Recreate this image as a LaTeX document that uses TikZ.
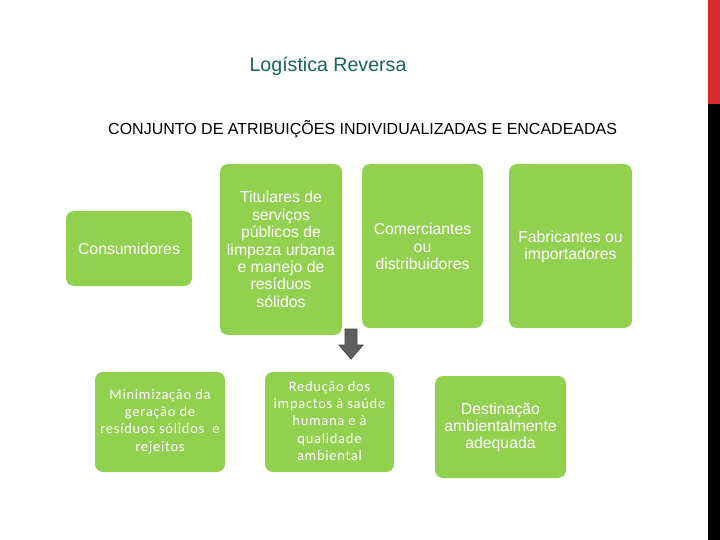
\documentclass[tikz,border=0pt]{standalone}
\usepackage{fontspec}
\setmainfont{Liberation Sans}
\newfontfamily\carl[LetterSpace=5]{Carlito}
\definecolor{boxgreen}{HTML}{92D050}
\definecolor{titleteal}{HTML}{17645A}
\definecolor{barred}{HTML}{D9292F}
\definecolor{arrowgray}{HTML}{5F5F5F}
\begin{document}
\begin{tikzpicture}[x=1pt,y=-1pt,
  gbox/.style={fill=boxgreen, rounded corners=8pt},
  topfont/.style={text=white, align=center, font=\fontsize{15.8}{17.4}\selectfont},
  botfont/.style={text=white, align=center, font=\carl\fontsize{14.5}{17.2}\selectfont}]
\useasboundingbox (0,0) rectangle (720,540);
\fill[white] (0,0) rectangle (720,540);
% side bar
\fill[barred] (708,0) rectangle (720,104);
\fill[black] (708,104) rectangle (720,540);
% titles
\node[text=titleteal, font=\fontsize{19.6}{22}\selectfont] (title) at (328,66) {Logística Reversa};
\node[font=\fontsize{16}{18}\selectfont, anchor=west, inner sep=0pt] (sub) at (108,129) {CONJUNTO DE ATRIBUIÇÕES INDIVIDUALIZADAS E ENCADEADAS};
% top boxes
\fill[gbox] (66,211) rectangle (192,286);
\node[topfont] (cons) at (129,248.5) {Consumidores};
\fill[gbox] (220,164) rectangle (342,335);
\node[topfont] (tit) at (281,249.5) {Titulares de\\serviços\\públicos de\\limpeza urbana\\e manejo de\\resíduos\\sólidos};
\fill[gbox] (362,164) rectangle (483,328);
\node[topfont] (com) at (422.5,246.5) {Comerciantes\\ou\\distribuidores};
\fill[gbox] (509,164) rectangle (632,328);
\node[topfont] (fab) at (570.5,247) {Fabricantes ou\\importadores};
% arrow
\draw[arrowgray!70!black, fill=arrowgray, line width=0.8pt, line join=miter]
  (345,329) -- (357,329) -- (357,345) -- (363,345) -- (351,359) -- (339,345) -- (345,345) -- cycle;
% bottom boxes
\fill[gbox] (95,372) rectangle (225,472);
\node[botfont] (min) at (160,421.5) {Minimização da\\geração de\\resíduos sólidos\ \ e\\rejeitos};
\fill[gbox] (265,372) rectangle (394,472);
\node[botfont] (red) at (329.5,421) {Redução dos\\impactos à saúde\\humana e à\\qualidade\\ambiental};
\fill[gbox] (435,376) rectangle (566,478);
\node[topfont] (des) at (500.5,427.5) {Destinação\\ambientalmente\\adequada};
\end{tikzpicture}
\end{document}
